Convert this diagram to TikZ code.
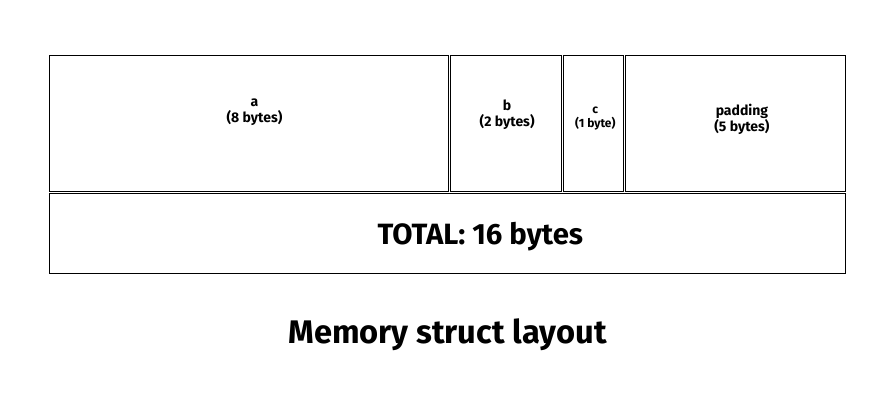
\documentclass[tikz,border=0pt]{standalone}
\usepackage{fontspec}
\setmainfont{Fira Sans}
\usetikzlibrary{positioning}

\begin{document}
\begin{tikzpicture}[x=0.75pt,y=-0.75pt,
  cell/.style={draw,line width=0.6pt,inner sep=0pt,outer sep=0pt,minimum height=102pt},
  fieldlbl/.style={align=center,font=\bfseries\fontsize{10.5}{12}\selectfont},
  totalbox/.style={cell,minimum width=597pt,minimum height=60pt},
  totallbl/.style={font=\bfseries\fontsize{22}{26}\selectfont},
  titletext/.style={font=\bfseries\fontsize{24.5}{30}\selectfont}]
\useasboundingbox (0,0) rectangle (892,418);
% Campos da struct
\node[cell,minimum width=299.25pt,anchor=north west,
  label={[fieldlbl,xshift=4.5pt,yshift=8pt]center:a\\(8 bytes)}] (a) at (49,55) {};
\node[cell,minimum width=82.9pt,right=1.9pt of a,
  label={[fieldlbl,xshift=1pt,yshift=6.5pt]center:b\\(2 bytes)}] (b) {};
\node[cell,minimum width=44.6pt,right=1.9pt of b,
  label={[fieldlbl,font=\bfseries\fontsize{9}{10.5}\selectfont,xshift=1.5pt,yshift=3.5pt]center:c\\(1 byte)}] (c) {};
\node[cell,minimum width=164.55pt,right=1.9pt of c,
  label={[fieldlbl,xshift=5pt,yshift=2.5pt]center:padding\\(5 bytes)}] (pad) {};
% Total
\node[totalbox,below right=1.9pt and 0pt of a.south west,
  label={[totallbl,xshift=25pt,yshift=-2pt]center:TOTAL: 16 bytes}] (total) {};
% Titulo
\node[titletext] (title) at (447.5,335) {Memory struct layout};
\end{tikzpicture}
\end{document}
